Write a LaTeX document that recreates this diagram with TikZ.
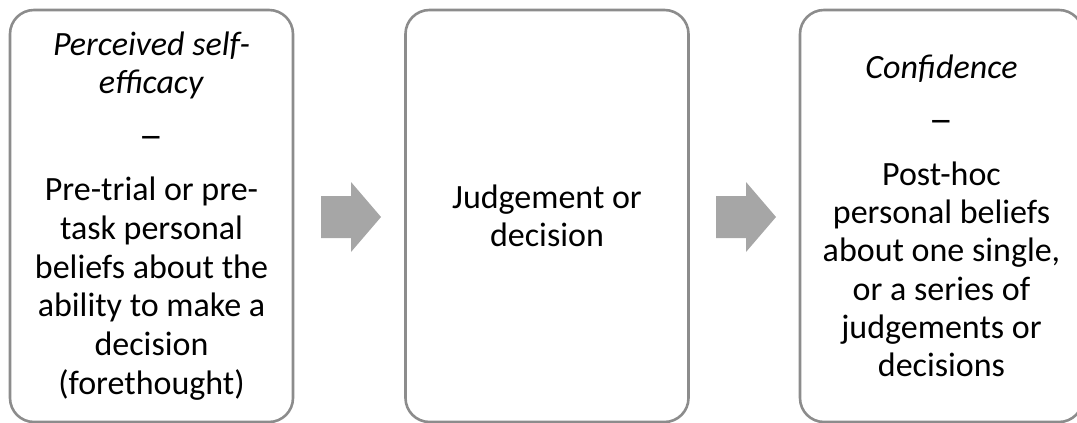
\documentclass[tikz,border=0pt]{standalone}
\usepackage{fontspec}
\usepackage{graphicx}
\setmainfont{Carlito}
\newfontfamily\dashfont{DejaVu Sans}
\newcommand{\widedash}{{\dashfont\scalebox{1.27}[1.05]{–}}}
\begin{document}
\begin{tikzpicture}[x=1pt,y=-1pt,
  stagebox/.style={draw=boxgray, line width=2.6pt, rounded corners=24pt,
    minimum width=283pt, minimum height=412pt, inner sep=0pt,
    align=center,
    font=\fontsize{34}{38.3}\selectfont},
  flowarrow/.style={fill=arrowgray, draw=none}]
\definecolor{boxgray}{HTML}{8C8C8C}
\definecolor{arrowgray}{HTML}{A6A6A6}
\useasboundingbox (0,0) rectangle (1077,423);
\begin{scope}
\clip (0,0) rectangle (1077,423);
\node[stagebox, font=\fontsize{34}{38.8}\selectfont] (b1) at (151.5,216) {\textit{Perceived self-}\\\textit{efficacy}\\[14.5pt]\widedash\\[14.5pt]Pre-trial or pre-\\task personal\\beliefs about the\\ability to make a\\decision\\(forethought)};
\node[stagebox] (b2) at (547,216) {Judgement or\\decision};
\node[stagebox] (b3) at (941.5,216) {\textit{Confidence}\\[15pt]\widedash\\[15pt]Post-hoc\\personal beliefs\\about one single,\\or a series of\\judgements or\\decisions};
\end{scope}
\coordinate (a1) at (321,217);
\coordinate (a2) at (716,217);
\fill[flowarrow] (a1) ++(0,-21) -- ++(30,0) -- ++(0,-14) -- ++(30,35) -- ++(-30,35) -- ++(0,-14) -- ++(-30,0) -- cycle;
\fill[flowarrow] (a2) ++(0,-21) -- ++(30,0) -- ++(0,-14) -- ++(30,35) -- ++(-30,35) -- ++(0,-14) -- ++(-30,0) -- cycle;
\end{tikzpicture}
\end{document}
